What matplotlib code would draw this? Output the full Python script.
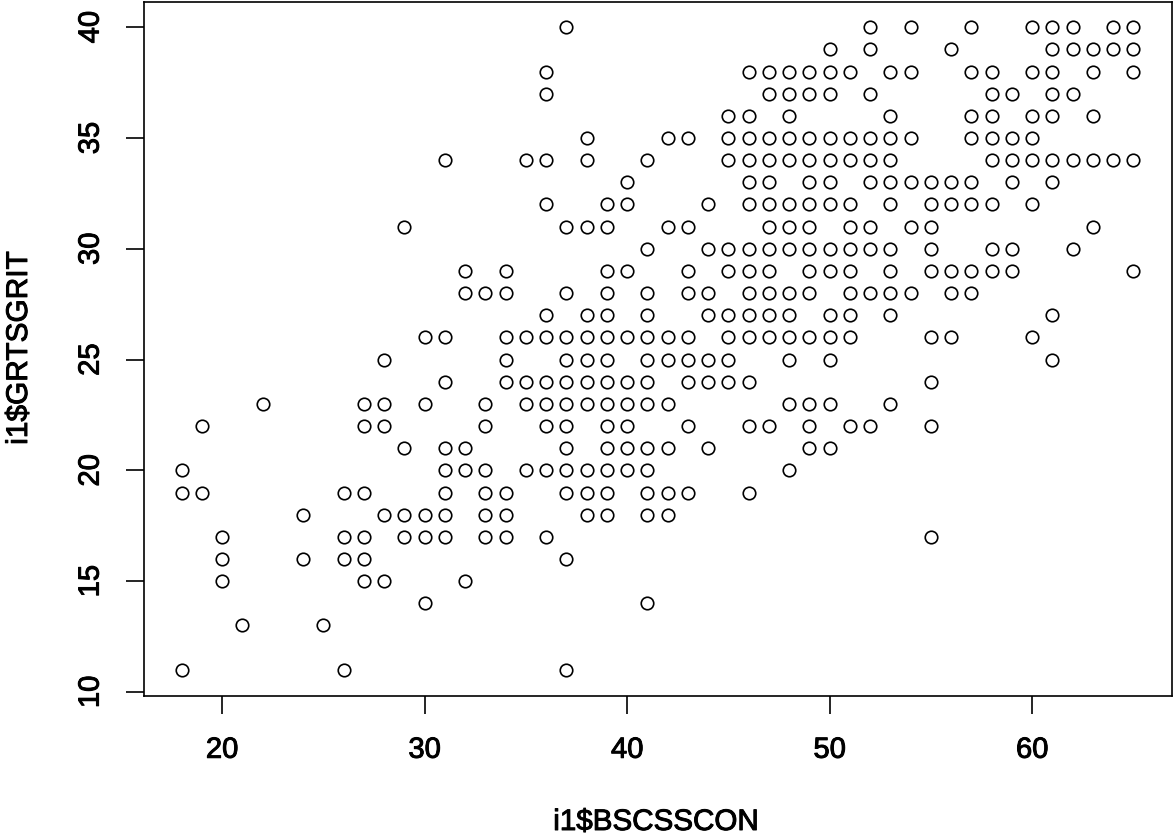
import matplotlib
matplotlib.use('Agg')
import matplotlib.pyplot as plt
import matplotlib.patheffects as pe

plt.rcParams['font.family'] = ['Liberation Sans', 'DejaVu Sans']

# i1$GRTSGRIT level -> i1$BSCSSCON values seen on that row
grit_levels = [40, 39, 38, 37, 36, 35, 34, 33, 32, 31, 30, 29, 28, 27, 26,
               25, 24, 23, 22, 21, 20, 19, 18, 17, 16, 15, 14, 13, 11]
con_by_grit = [
    [37, 52, 54, 57, 60, 61, 62, 64, 65],
    [50, 52, 56, 61, 62, 63, 64, 65],
    [36, 46, 47, 48, 49, 50, 51, 53, 54, 57, 58, 60, 61, 63, 65],
    [36, 47, 48, 49, 50, 52, 58, 59, 61, 62],
    [45, 46, 48, 53, 57, 58, 60, 61, 63],
    [38, 42, 43, 45, 46, 47, 48, 49, 50, 51, 52, 53, 54, 57, 58, 59, 60],
    [31, 35, 36, 38, 41, 45, 46, 47, 48, 49, 50, 51, 52, 53, 58, 59, 60, 61, 62, 63, 64, 65],
    [40, 46, 47, 49, 50, 52, 53, 54, 55, 56, 57, 59, 61],
    [36, 39, 40, 44, 46, 47, 48, 49, 50, 51, 53, 55, 56, 57, 58, 60],
    [29, 37, 38, 39, 42, 43, 47, 48, 49, 51, 52, 54, 55, 63],
    [41, 44, 45, 46, 47, 48, 49, 50, 51, 52, 53, 55, 58, 59, 62],
    [32, 34, 39, 40, 43, 45, 46, 47, 49, 50, 51, 53, 55, 56, 57, 58, 59, 65],
    [32, 33, 34, 37, 39, 41, 43, 44, 46, 47, 48, 49, 51, 52, 53, 54, 56, 57],
    [36, 38, 39, 41, 44, 45, 46, 47, 48, 50, 51, 53, 61],
    [30, 31, 34, 35, 36, 37, 38, 39, 40, 41, 42, 43, 45, 46, 47, 48, 49, 50, 51, 55, 56, 60],
    [28, 34, 37, 38, 39, 41, 42, 43, 44, 45, 48, 50, 61],
    [31, 34, 35, 36, 37, 38, 39, 40, 41, 43, 44, 45, 46, 55],
    [22, 27, 28, 30, 33, 35, 36, 37, 38, 39, 40, 41, 42, 48, 49, 50, 53],
    [19, 27, 28, 33, 36, 37, 39, 40, 43, 46, 47, 49, 51, 52, 55],
    [29, 31, 32, 37, 39, 40, 41, 42, 44, 49, 50],
    [18, 31, 32, 33, 35, 36, 37, 38, 39, 40, 41, 48],
    [18, 19, 26, 27, 31, 33, 34, 37, 38, 39, 41, 42, 43, 46],
    [24, 28, 29, 30, 31, 33, 34, 38, 39, 41, 42],
    [20, 26, 27, 29, 30, 31, 33, 34, 36, 55],
    [20, 24, 26, 27, 37],
    [20, 27, 28, 32],
    [30, 41],
    [21, 25],
    [18, 26, 37],
]
x_ticks = [20, 30, 40, 50, 60]
y_ticks = [10, 15, 20, 25, 30, 35, 40]

W, H = 1173, 835
fig = plt.figure(figsize=(W / 100, H / 100), dpi=100)
ax = fig.add_axes([143.5 / W, 1 - 695.5 / H, 1028 / W, 694 / H])

for grit, cons in zip(grit_levels, con_by_grit):
    ax.plot(cons, [grit] * len(cons), 'o', ms=9, mfc='none', mec='black', mew=1.2)

ax.set_xlim(16.12, 66.88)
ax.set_ylim(9.84, 41.16)
ax.set_xticks(x_ticks)
ax.set_yticks(y_ticks)
ax.tick_params(axis='both', length=13, width=1.2, labelsize=21)
ax.tick_params(axis='x', pad=16)
ax.tick_params(axis='y', pad=15)
heavy = [pe.withStroke(linewidth=0.7, foreground='black')]
for lab in ax.get_yticklabels():
    lab.set_rotation(90)
    lab.set_va('center')
    lab.set_path_effects(heavy)
for lab in ax.get_xticklabels():
    lab.set_path_effects(heavy)
for sp in ax.spines.values():
    sp.set_linewidth(1.2)

fig.text(656 / W, 1 - 822 / H, 'i1$BSCSSCON', fontsize=21.3, ha='center', va='center',
         parse_math=False, path_effects=heavy)
fig.text(19 / W, 1 - 348 / H, 'i1$GRTSGRIT', fontsize=21.5, ha='center', va='center',
         rotation=90, parse_math=False, path_effects=heavy)

fig.savefig('out.png', dpi=100)
